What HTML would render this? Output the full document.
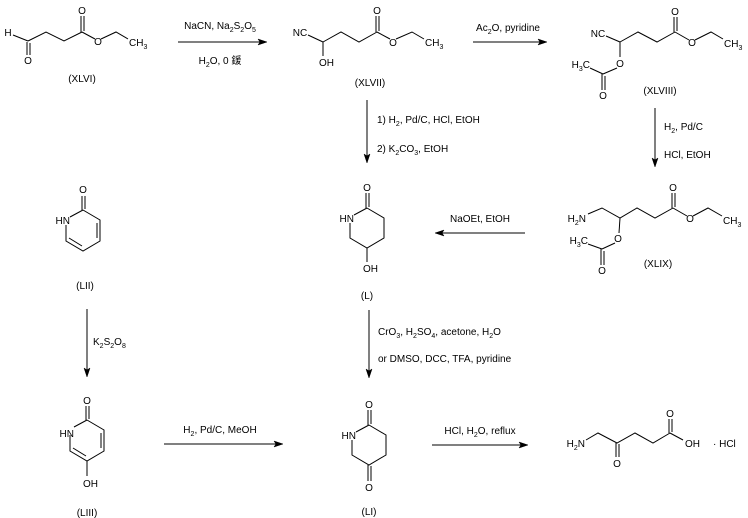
<!DOCTYPE html>
<html>
<head>
<meta charset="utf-8">
<style>
html,body{margin:0;padding:0;background:#fff;}
svg{display:block;}
text{font-family:"Liberation Sans","Noto Sans CJK SC",sans-serif;font-size:10px;fill:#000;}
line,polyline{stroke:#000;stroke-width:1;fill:none;}
polygon{fill:#000;stroke:#000;stroke-width:0.5;}
</style>
</head>
<body>
<svg width="748" height="518" viewBox="0 0 748 518" xmlns="http://www.w3.org/2000/svg">

<!-- ===== XLVI ===== -->
<text x="8" y="36" text-anchor="middle">H</text>
<line x1="13" y1="35" x2="28" y2="41"/>
<line x1="27" y1="42" x2="27" y2="55"/>
<line x1="30" y1="43" x2="30" y2="55"/>
<text x="28" y="64" text-anchor="middle">O</text>
<polyline points="28,41 46,32 64,41 82,32"/>
<line x1="81" y1="32" x2="81" y2="16"/>
<line x1="84" y1="31" x2="84" y2="16"/>
<text x="82" y="14" text-anchor="middle">O</text>
<line x1="82" y1="32" x2="95" y2="39"/>
<text x="98" y="45" text-anchor="middle">O</text>
<polyline points="101,39 116,32 128,39"/>
<text x="129" y="46">CH<tspan font-size="7" dy="3">3</tspan></text>
<text x="82" y="82" text-anchor="middle">(XLVI)</text>

<!-- arrow 1 -->
<line x1="178" y1="42" x2="262" y2="42"/>
<polygon points="267,42 258,39 260,42 258,45"/>
<text x="220" y="29" text-anchor="middle">NaCN, Na<tspan font-size="7" dy="3">2</tspan><tspan dy="-3">S</tspan><tspan font-size="7" dy="3">2</tspan><tspan dy="-3">O</tspan><tspan font-size="7" dy="3">5</tspan></text>
<text x="220" y="64" text-anchor="middle">H<tspan font-size="7" dy="3">2</tspan><tspan dy="-3">O, 0 鍰</tspan></text>

<!-- ===== XLVII ===== -->
<text x="300" y="36" text-anchor="middle">NC</text>
<line x1="308" y1="35" x2="323" y2="42"/>
<line x1="323" y1="42" x2="323" y2="56"/>
<text x="319" y="66">OH</text>
<polyline points="323,42 341,32 359,42 377,32"/>
<line x1="376" y1="32" x2="376" y2="16"/>
<line x1="379" y1="31" x2="379" y2="16"/>
<text x="377" y="14" text-anchor="middle">O</text>
<line x1="377" y1="32" x2="390" y2="39"/>
<text x="393" y="46" text-anchor="middle">O</text>
<polyline points="396,39 412,32 424,39"/>
<text x="425" y="46">CH<tspan font-size="7" dy="3">3</tspan></text>
<text x="370" y="86" text-anchor="middle">(XLVII)</text>

<!-- arrow 2 -->
<line x1="473" y1="42" x2="542" y2="42"/>
<polygon points="547,42 538,39 540,42 538,45"/>
<text x="508" y="31" text-anchor="middle">Ac<tspan font-size="7" dy="3">2</tspan><tspan dy="-3">O, pyridine</tspan></text>

<!-- ===== XLVIII ===== -->
<text x="598" y="37" text-anchor="middle">NC</text>
<line x1="606" y1="36" x2="620" y2="42"/>
<polyline points="620,42 638,32 657,42 675,32"/>
<line x1="674" y1="32" x2="674" y2="17"/>
<line x1="677" y1="31" x2="677" y2="17"/>
<text x="675" y="15" text-anchor="middle">O</text>
<line x1="675" y1="32" x2="689" y2="40"/>
<text x="692" y="46" text-anchor="middle">O</text>
<polyline points="695,40 711,32 723,39"/>
<text x="724" y="47">CH<tspan font-size="7" dy="3">3</tspan></text>
<line x1="620" y1="42" x2="620" y2="57"/>
<text x="620" y="67" text-anchor="middle">O</text>
<line x1="617" y1="68" x2="603" y2="74"/>
<text x="590" y="68" text-anchor="end">H<tspan font-size="7" dy="3">3</tspan><tspan dy="-3">C</tspan></text>
<line x1="590" y1="68" x2="603" y2="74"/>
<line x1="602" y1="74" x2="602" y2="90"/>
<line x1="605" y1="76" x2="605" y2="90"/>
<text x="603" y="99" text-anchor="middle">O</text>
<text x="660" y="94" text-anchor="middle">(XLVIII)</text>

<!-- arrow right vertical -->
<line x1="655" y1="108" x2="655" y2="162"/>
<polygon points="655,167 652,158 655,160 658,158"/>
<text x="664" y="130">H<tspan font-size="7" dy="3">2</tspan><tspan dy="-3">, Pd/C</tspan></text>
<text x="664" y="158">HCl, EtOH</text>

<!-- ===== XLIX ===== -->
<text x="586" y="222" text-anchor="end">H<tspan font-size="7" dy="3">2</tspan><tspan dy="-3">N</tspan></text>
<polyline points="588,214 602,208 620,218 637,208 655,218 673,208"/>
<line x1="672" y1="208" x2="672" y2="193"/>
<line x1="675" y1="207" x2="675" y2="193"/>
<text x="673" y="191" text-anchor="middle">O</text>
<line x1="673" y1="208" x2="687" y2="216"/>
<text x="690" y="222" text-anchor="middle">O</text>
<polyline points="693,216 708,208 722,216"/>
<text x="723" y="224">CH<tspan font-size="7" dy="3">3</tspan></text>
<line x1="620" y1="218" x2="619" y2="233"/>
<text x="618" y="242" text-anchor="middle">O</text>
<line x1="615" y1="243" x2="602" y2="249"/>
<text x="588" y="244" text-anchor="end">H<tspan font-size="7" dy="3">3</tspan><tspan dy="-3">C</tspan></text>
<line x1="588" y1="244" x2="602" y2="249"/>
<line x1="601" y1="249" x2="601" y2="265"/>
<line x1="604" y1="251" x2="604" y2="265"/>
<text x="602" y="274" text-anchor="middle">O</text>
<text x="658" y="267" text-anchor="middle">(XLIX)</text>

<!-- arrow NaOEt (left) -->
<line x1="440" y1="233" x2="525" y2="233"/>
<polygon points="435,233 444,230 442,233 444,236"/>
<text x="480" y="222" text-anchor="middle">NaOEt, EtOH</text>

<!-- vertical arrow XLVII -> L -->
<line x1="367" y1="100" x2="367" y2="158"/>
<polygon points="367,163 364,154 367,156 370,154"/>
<text x="377" y="123">1) H<tspan font-size="7" dy="3">2</tspan><tspan dy="-3">, Pd/C, HCl, EtOH</tspan></text>
<text x="377" y="152">2) K<tspan font-size="7" dy="3">2</tspan><tspan dy="-3">CO</tspan><tspan font-size="7" dy="3">3</tspan><tspan dy="-3">, EtOH</tspan></text>

<!-- ===== L ===== -->
<text x="367" y="191" text-anchor="middle">O</text>
<line x1="366" y1="208" x2="366" y2="193"/>
<line x1="369" y1="207" x2="369" y2="193"/>
<text x="354" y="222" text-anchor="end">HN</text>
<line x1="354" y1="215" x2="367" y2="208"/>
<polyline points="367,208 384,218 384,238 367,248 350,238 350,223"/>
<line x1="367" y1="248" x2="367" y2="262"/>
<text x="363" y="272">OH</text>
<text x="367" y="299" text-anchor="middle">(L)</text>

<!-- arrow L -> LI -->
<line x1="369" y1="310" x2="369" y2="373"/>
<polygon points="369,378 366,369 369,371 372,369"/>
<text x="378" y="335">CrO<tspan font-size="7" dy="3">3</tspan><tspan dy="-3">, H</tspan><tspan font-size="7" dy="3">2</tspan><tspan dy="-3">SO</tspan><tspan font-size="7" dy="3">4</tspan><tspan dy="-3">, acetone, H</tspan><tspan font-size="7" dy="3">2</tspan><tspan dy="-3">O</tspan></text>
<text x="378" y="362">or DMSO, DCC, TFA, pyridine</text>

<!-- ===== LII ===== -->
<text x="83" y="193" text-anchor="middle">O</text>
<line x1="82" y1="210" x2="82" y2="196"/>
<line x1="85" y1="209" x2="85" y2="196"/>
<text x="70" y="224" text-anchor="end">HN</text>
<line x1="70" y1="217" x2="83" y2="210"/>
<polyline points="83,210 100,220 100,241 83,251 66,241 66,225"/>
<line x1="97" y1="223" x2="97" y2="238"/>
<line x1="69" y1="238" x2="82" y2="246"/>
<text x="85" y="289" text-anchor="middle">(LII)</text>

<!-- arrow LII -> LIII -->
<line x1="87" y1="309" x2="87" y2="372"/>
<polygon points="87,377 84,368 87,370 90,368"/>
<text x="93" y="345">K<tspan font-size="7" dy="3">2</tspan><tspan dy="-3">S</tspan><tspan font-size="7" dy="3">2</tspan><tspan dy="-3">O</tspan><tspan font-size="7" dy="3">8</tspan></text>

<!-- ===== LIII ===== -->
<text x="87" y="404" text-anchor="middle">O</text>
<line x1="86" y1="420" x2="86" y2="406"/>
<line x1="89" y1="419" x2="89" y2="406"/>
<text x="74" y="437" text-anchor="end">HN</text>
<line x1="74" y1="427" x2="87" y2="420"/>
<polyline points="87,420 104,430 104,451 87,461 70,451 70,435"/>
<line x1="101" y1="433" x2="101" y2="448"/>
<line x1="73" y1="448" x2="86" y2="456"/>
<line x1="87" y1="461" x2="87" y2="476"/>
<text x="83" y="487">OH</text>
<text x="87" y="516" text-anchor="middle">(LIII)</text>

<!-- arrow LIII -> LI -->
<line x1="164" y1="444" x2="278" y2="444"/>
<polygon points="283,444 274,441 276,444 274,447"/>
<text x="220" y="433" text-anchor="middle">H<tspan font-size="7" dy="3">2</tspan><tspan dy="-3">, Pd/C, MeOH</tspan></text>

<!-- ===== LI ===== -->
<text x="369" y="408" text-anchor="middle">O</text>
<line x1="368" y1="425" x2="368" y2="410"/>
<line x1="371" y1="424" x2="371" y2="410"/>
<text x="356" y="439" text-anchor="end">HN</text>
<line x1="356" y1="432" x2="369" y2="425"/>
<polyline points="369,425 386,435 386,455 369,465 352,455 352,440"/>
<line x1="368" y1="465" x2="368" y2="481"/>
<line x1="371" y1="466" x2="371" y2="481"/>
<text x="369" y="491" text-anchor="middle">O</text>
<text x="369" y="515" text-anchor="middle">(LI)</text>

<!-- arrow LI -> product -->
<line x1="432" y1="445" x2="523" y2="445"/>
<polygon points="528,445 519,442 521,445 519,448"/>
<text x="480" y="434" text-anchor="middle">HCl, H<tspan font-size="7" dy="3">2</tspan><tspan dy="-3">O, reflux</tspan></text>

<!-- ===== product ===== -->
<text x="585" y="447" text-anchor="end">H<tspan font-size="7" dy="3">2</tspan><tspan dy="-3">N</tspan></text>
<polyline points="586,440 598,433 617,443 635,433 653,443 670,433"/>
<line x1="616" y1="443" x2="616" y2="457"/>
<line x1="619" y1="444" x2="619" y2="457"/>
<text x="617" y="467" text-anchor="middle">O</text>
<line x1="669" y1="433" x2="669" y2="419"/>
<line x1="672" y1="432" x2="672" y2="419"/>
<text x="670" y="417" text-anchor="middle">O</text>
<line x1="670" y1="433" x2="683" y2="440"/>
<text x="685" y="447">OH</text>
<text x="713" y="447">· HCl</text>

</svg>
</body>
</html>
